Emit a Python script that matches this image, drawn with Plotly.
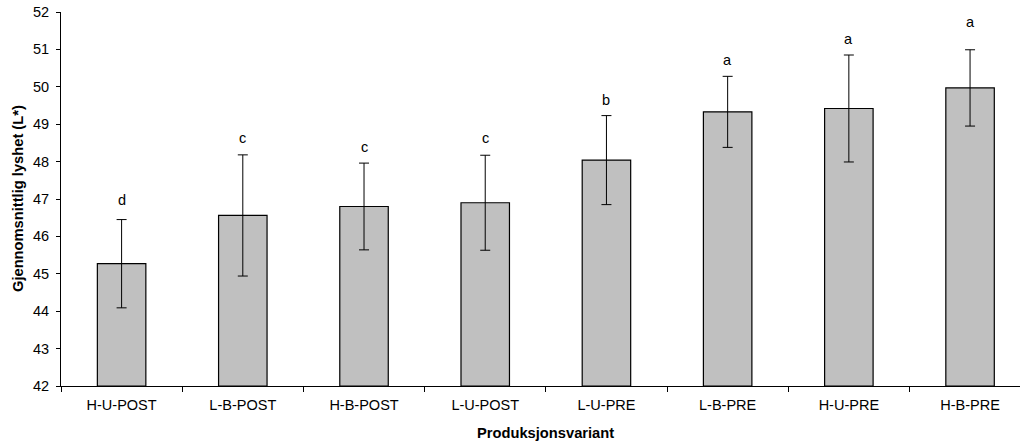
import plotly.graph_objects as go

categories = ["H-U-POST", "L-B-POST", "H-B-POST", "L-U-POST", "L-U-PRE", "L-B-PRE", "H-U-PRE", "H-B-PRE"]
means = [45.27, 46.56, 46.80, 46.90, 48.04, 49.33, 49.42, 49.97]
errors = [1.18, 1.62, 1.16, 1.27, 1.19, 0.95, 1.43, 1.02]
group_letters = ["d", "c", "c", "c", "b", "a", "a", "a"]
letter_heights = [46.97, 48.63, 48.40, 48.63, 49.65, 50.72, 51.28, 51.72]

FONT = "Liberation Sans, Arial, sans-serif"

fig = go.Figure()
fig.add_trace(go.Bar(
    x=categories,
    y=[m - 42 for m in means],
    base=42,
    width=0.4,
    marker=dict(color="#C0C0C0", line=dict(color="#000000", width=1.2)),
    error_y=dict(type="data", array=errors, visible=True, color="#000000", thickness=1, width=5),
    showlegend=False,
    hoverinfo="skip",
))

for cat, letter, h in zip(categories, group_letters, letter_heights):
    fig.add_annotation(x=cat, y=h, text=letter, showarrow=False,
                       xanchor="center", yanchor="middle",
                       font=dict(family=FONT, size=14.5, color="#000000"))

fig.add_annotation(x=3.5, xref="x", y=-0.126, yref="paper", text="<b>Produksjonsvariant</b>",
                   showarrow=False, xanchor="center", yanchor="middle",
                   font=dict(family=FONT, size=14.7, color="#000000"))
fig.add_annotation(x=-0.0448, xref="paper", y=0.5, yref="paper", text="<b>Gjennomsnittlig lyshet (L*)</b>",
                   textangle=-90, showarrow=False, xanchor="center", yanchor="middle",
                   font=dict(family=FONT, size=14.7, color="#000000"))

fig.update_layout(
    width=1020, height=441,
    margin=dict(l=61, r=0, t=12, b=55, autoexpand=False),
    paper_bgcolor="white", plot_bgcolor="white",
    font=dict(family=FONT, size=14.5, color="#000000"),
    bargap=0.6,
)
fig.update_xaxes(
    type="category", range=[-0.5, 7.412], automargin=False,
    showline=True, linecolor="#000000", linewidth=1,
    ticks="outside", ticklen=5, tickcolor="#000000", tickson="boundaries",
    showgrid=False, zeroline=False, ticklabelstandoff=6,
)
fig.update_yaxes(
    range=[42, 52], dtick=1, automargin=False,
    showline=True, linecolor="#000000", linewidth=1,
    ticks="outside", ticklen=4, tickcolor="#000000",
    showgrid=False, zeroline=False, ticklabelstandoff=4,
)

fig.write_html("out.html", config={"displayModeBar": False},
               post_script="document.body.style.margin='0';")
